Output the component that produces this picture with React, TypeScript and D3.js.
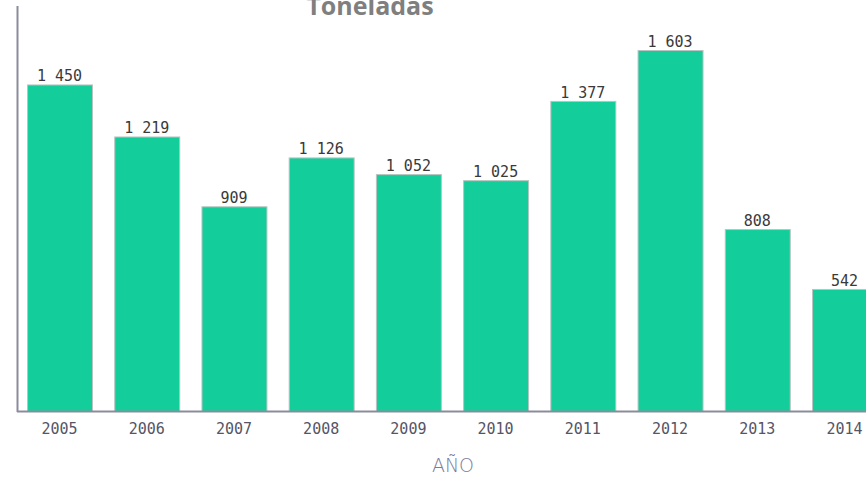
import React, { useEffect, useRef } from 'react';
import * as d3 from 'd3';

const years = ['2005', '2006', '2007', '2008', '2009', '2010', '2011', '2012', '2013', '2014'];
const toneladas = [1450, 1219, 909, 1126, 1052, 1025, 1377, 1603, 808, 542];

function App() {
  const ref = useRef<SVGSVGElement>(null);

  useEffect(() => {
    if (!ref.current) return;
    const svg = d3.select(ref.current);
    svg.selectAll('*').remove();

    const W = 866;
    const axisX = 17;
    const baseY = 411;

    const x = d3
      .scaleBand<string>()
      .domain(years)
      .range([axisX, axisX + 870])
      .paddingInner(0.255)
      .paddingOuter(0.115);

    const y = d3.scaleLinear().domain([0, 1603]).range([baseY, 50]);

    const fmt = d3.formatLocale({ decimal: ',', thousands: ' ', grouping: [3], currency: ['', ''] }).format(',d');

    // bars
    svg
      .append('g')
      .selectAll('rect')
      .data(toneladas)
      .enter()
      .append('rect')
      .attr('x', (d, i) => x(years[i])! + 0.5)
      .attr('y', d => y(d) + 0.5)
      .attr('width', x.bandwidth())
      .attr('height', d => baseY - y(d))
      .attr('fill', '#13ce9b')
      .attr('stroke', '#b9c4c0')
      .attr('stroke-width', 1);

    // value labels
    svg
      .append('g')
      .selectAll('text')
      .data(toneladas)
      .enter()
      .append('text')
      .attr('x', (d, i) => x(years[i])! + x.bandwidth() / 2)
      .attr('y', d => y(d) - 3)
      .attr('text-anchor', 'middle')
      .style('font-family', 'DejaVu Sans Mono')
      .style('font-size', '15px')
      .style('fill', '#3a3a3a')
      .text(d => fmt(d));

    // axis lines
    svg
      .append('line')
      .attr('x1', axisX + 0.5)
      .attr('x2', axisX + 0.5)
      .attr('y1', 6)
      .attr('y2', baseY + 1)
      .attr('stroke', '#8b8b9b')
      .attr('stroke-width', 2);

    svg
      .append('line')
      .attr('x1', axisX)
      .attr('x2', W)
      .attr('y1', baseY + 0.5)
      .attr('y2', baseY + 0.5)
      .attr('stroke', '#8b8b9b')
      .attr('stroke-width', 2);

    // year labels
    svg
      .append('g')
      .selectAll('text')
      .data(years)
      .enter()
      .append('text')
      .attr('x', d => x(d)! + x.bandwidth() / 2)
      .attr('y', 434)
      .attr('text-anchor', 'middle')
      .style('font-family', 'DejaVu Sans Mono')
      .style('font-size', '15px')
      .style('fill', '#555566')
      .text(d => d);

    // title
    svg
      .append('text')
      .attr('x', 370)
      .attr('y', 15)
      .attr('text-anchor', 'middle')
      .style('font-family', 'Open Sans')
      .style('font-weight', 'bold')
      .style('font-size', '25px')
      .style('fill', '#7f7f7f')
      .text('Toneladas');

    // axis title
    svg
      .append('text')
      .attr('x', 453)
      .attr('y', 472)
      .attr('text-anchor', 'middle')
      .style('font-family', 'DejaVu Sans')
      .style('font-weight', '300')
      .style('font-size', '19px')
      .style('fill', '#7c7c98')
      .text('AÑO');
  }, []);

  return (
    <svg
      ref={ref}
      width={866}
      height={479}
      style={{ position: 'absolute', left: 0, top: 0, background: '#ffffff' }}
    />
  );
}

export default App;
